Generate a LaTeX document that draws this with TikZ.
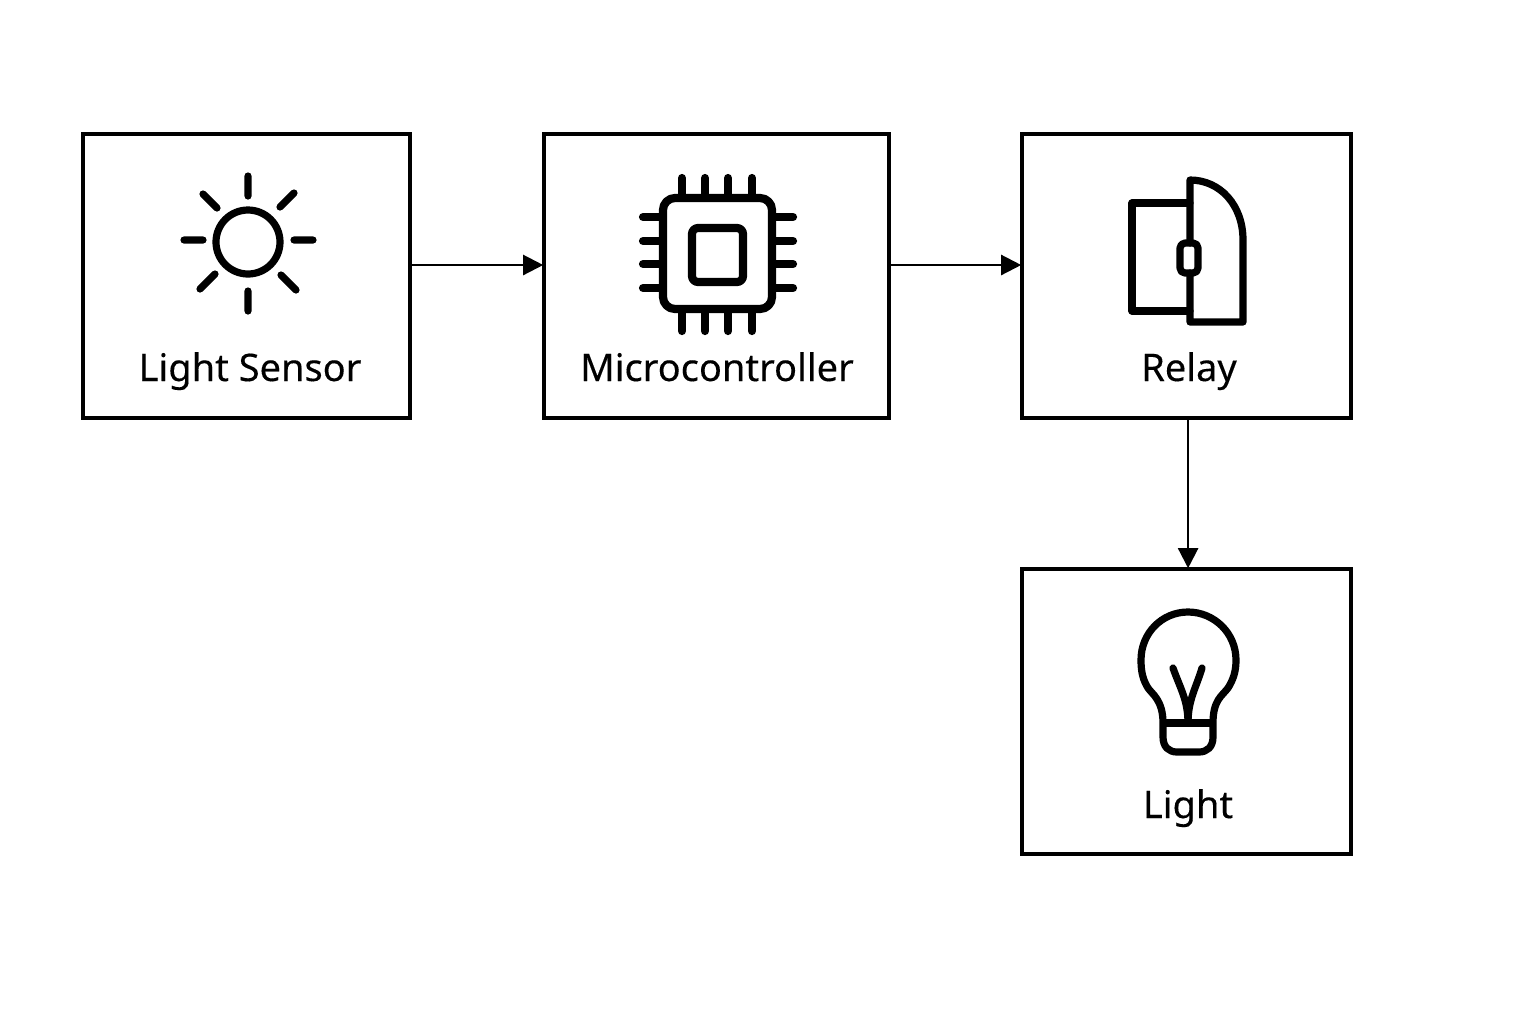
\documentclass[tikz,border=0pt]{standalone}
\usepackage{fontspec}
\setmainfont{Noto Sans}[RawFeature={embolden=0.25}]
\usetikzlibrary{arrows.meta}
\tikzset{
  x=0.5pt,y=-0.5pt,
  blockbox/.style={draw=black,line width=1.8pt,fill=white,inner sep=0pt,outer sep=0.9pt},
  flow/.style={draw=black,line width=1.15pt,-{Triangle[length=10pt,width=10pt]},shorten >=-0.5pt},
  icon/.style={draw=black,line width=3.6pt,line cap=round,line join=round},
  chipicon/.style={icon,line width=4.1pt},
  lab/.style={font=\fontsize{19pt}{22pt}\selectfont,text=black,inner sep=0pt,anchor=base}
}
\begin{document}
\begin{tikzpicture}
\useasboundingbox (0,0) rectangle (1536,1024);
\fill[white] (0,0) rectangle (1536,1024);
\node[blockbox,minimum width=163.5pt,minimum height=142pt] (sensor) at (246.5,276) {};
\node[blockbox,minimum width=172.5pt,minimum height=142pt] (mcu) at (716.5,276) {};
\node[blockbox,minimum width=164.5pt,minimum height=142pt] (relay) at (1186.5,276) {};
\node[blockbox,minimum width=164.5pt,minimum height=142.5pt] (light) at (1186.5,711.5) {};
\draw[flow] ([yshift=5.5pt]sensor.east) -- ([yshift=5.5pt]mcu.west);
\draw[flow] ([yshift=5.5pt]mcu.east) -- ([yshift=5.5pt]relay.west);
\draw[flow] ([xshift=0.8pt]relay.south) -- ([xshift=0.8pt]light.north);
\node[lab] (t1) at (250,381) {Light Sensor};
\node[lab] (t2) at (717,381) {Microcontroller};
\node[lab] (t3) at (1189,381) {Relay};
\node[lab] (t4) at (1188,818) {Light};
% sun
\draw[icon] (248,242) circle (32);
\draw[icon] (248,176)--(248,196) (248,291)--(248,311) (184,240)--(203,240) (294,240)--(313,240)
 (203,194)--(217,208) (294,193)--(280,207) (200,289)--(215,274) (296,290)--(281,275);
% chip
\draw[chipicon,rounded corners=6pt] (663,198) rectangle (772,309);
\draw[chipicon,rounded corners=3pt] (692,228) rectangle (743,282);
\foreach \p in {682,705,728,752}{\draw[chipicon] (\p,178)--(\p,196) (\p,311)--(\p,331);}
\foreach \p in {217,241,264,288}{\draw[chipicon] (643,\p)--(661,\p) (775,\p)--(793,\p);}
% relay
\draw[icon] (1190,203)--(1132,203)--(1132,311)--(1190,311);
\draw[icon] (1190,243)--(1190,180) .. controls (1220,180) and (1243,205) .. (1243,240) -- (1243,322) -- (1190,322) -- (1190,273);
\draw[icon,rounded corners=2.5pt] (1180,243) rectangle (1198,273);
% bulb
\draw[icon] (1163,723) .. controls (1163,700) and (1152,694) .. (1148,688)
 .. controls (1143,680) and (1141,672) .. (1141,660)
 .. controls (1141,633) and (1162,612) .. (1188,612)
 .. controls (1214,612) and (1236,633) .. (1236,660)
 .. controls (1236,672) and (1233,680) .. (1228,688)
 .. controls (1222,696) and (1213,700) .. (1213,723)
 -- (1213,737) .. controls (1213,747) and (1207,752) .. (1199,752)
 -- (1177,752) .. controls (1169,752) and (1163,747) .. (1163,737) -- cycle;
\draw[icon,line cap=butt] (1163,723)--(1213,723);
\draw[icon] (1173,668) .. controls (1180,688) and (1188,700) .. (1188,723);
\draw[icon] (1202,668) .. controls (1196,688) and (1188,700) .. (1188,723);
\end{tikzpicture}
\end{document}
